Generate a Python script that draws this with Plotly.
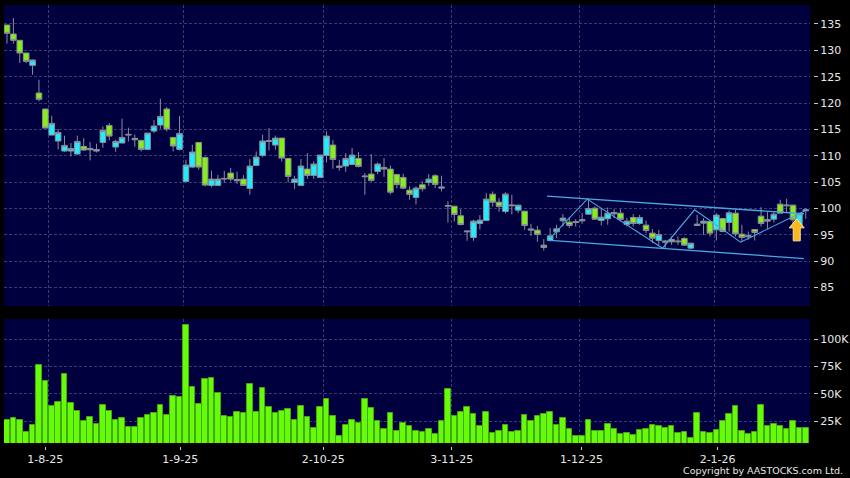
import plotly.graph_objects as go
from plotly.subplots import make_subplots

highs = [134.81,136.14,131.90,129.49,128.23,124.43,118.92,117.60,115.06,113.80,112.41,113.80,113.35,112.60,112.28,115.57,116.20,113.04,117.03,115.32,114.00,113.04,114.30,116.77,120.82,119.24,113.54,117.53,109.24,112.09,112.60,109.87,
 107.15,106.33,107.15,107.66,106.96,106.33,109.37,110.82,113.99,115.25,113.80,113.35,109.56,106.20,109.37,110.51,108.92,110.19,114.62,112.98,109.24,110.51,111.46,110.70,106.71,110.32,108.73,109.56,108.17,106.46,106.58,
 104.18,104.18,105.13,106.52,106.52,106.20,101.39,100.44,99.87,95.82,97.85,98.74,102.91,103.23,101.96,103.10,102.59,100.70,99.56,97.09,96.71,94.18,96.27,96.90,98.92,98.35,97.98,99.11,101.77,100.38,100.06,
 100.19,99.87,99.87,98.17,98.92,98.80,97.72,96.08,95.95,94.05,94.68,94.68,94.56,93.42,98.80,98.17,97.66,99.11,98.23,99.62,99.75,96.90,95.63,96.08,100.25,99.30,99.30,101.65,101.84,100.70,99.11,100.06]
body_tops = [134.81,133.10,131.90,129.49,128.16,121.90,118.86,116.14,114.43,111.96,111.39,112.72,111.77,111.39,111.20,114.81,115.76,112.72,113.48,114.05,113.29,112.91,114.30,115.63,117.47,118.86,113.48,114.24,108.23,110.70,112.53,109.68,
 105.57,105.57,105.70,106.71,105.51,105.57,108.04,109.75,112.79,112.85,113.35,113.35,109.49,105.57,108.04,107.47,108.42,110.13,113.73,112.03,108.04,109.49,110.13,109.49,106.14,106.52,108.42,107.79,107.47,106.46,105.89,
 103.48,103.86,104.49,105.57,106.20,104.05,100.57,100.44,98.61,95.70,97.60,97.78,101.77,102.72,101.20,102.72,100.63,100.63,99.49,96.08,95.89,93.04,94.81,96.14,98.17,97.41,97.47,97.85,100.00,100.06,98.35,
 99.11,99.24,99.11,97.60,98.29,98.29,96.84,95.32,95.06,93.80,94.11,93.80,94.30,93.42,97.03,97.60,97.53,98.74,98.10,99.18,99.11,95.13,94.81,96.01,98.54,97.91,98.92,100.82,100.63,100.63,98.99,99.75]
body_bottoms = [133.23,131.90,129.49,127.91,127.15,120.70,115.25,113.92,112.79,110.89,110.89,110.32,111.08,111.14,110.89,112.53,113.73,111.65,112.41,113.92,113.04,111.20,111.20,114.68,115.82,115.06,111.84,111.20,105.13,107.85,107.85,104.43,
 104.37,104.37,105.57,105.57,105.25,104.37,103.80,108.17,110.06,112.72,112.03,109.56,106.08,104.94,104.37,106.27,106.27,105.89,110.06,109.30,107.79,108.04,108.35,107.97,106.01,105.32,107.03,107.47,103.10,104.56,103.86,
 102.66,102.09,103.74,104.94,104.56,103.86,100.44,98.86,96.96,95.57,94.49,97.15,97.72,101.20,100.38,99.43,100.51,99.68,96.77,95.89,95.06,92.60,93.92,95.57,97.66,96.77,97.34,97.66,98.92,97.97,97.72,
 98.04,98.99,97.91,96.96,97.15,97.15,95.82,94.37,93.92,93.61,93.67,93.67,93.04,92.47,96.77,97.22,95.32,95.95,95.63,97.34,95.19,94.49,94.62,95.44,97.15,97.60,97.97,99.11,100.51,97.85,96.84,99.56]
lows = [131.27,131.27,127.59,127.59,125.38,120.32,115.25,113.92,111.20,110.76,109.87,110.19,110.95,109.11,110.63,111.52,112.91,110.76,112.41,112.72,111.71,110.82,111.08,114.30,115.13,114.62,110.82,111.01,105.13,107.66,107.34,104.18,
 103.99,104.30,104.87,105.13,104.62,104.37,102.59,108.17,109.75,111.01,111.14,108.92,104.94,103.74,104.37,105.63,105.63,105.89,108.73,107.53,107.15,106.96,108.35,107.79,102.59,105.06,106.52,106.01,102.66,103.80,103.67,
 101.65,100.76,103.23,104.30,103.86,103.23,97.34,97.53,96.77,93.86,93.86,96.01,97.72,100.38,99.37,99.05,98.86,99.11,95.95,94.81,93.67,92.03,93.73,94.37,96.58,96.33,96.58,97.09,98.80,97.85,96.77,
 96.90,98.17,97.53,96.58,96.58,96.90,95.32,93.42,93.10,92.47,93.10,93.10,92.91,92.34,96.77,95.00,94.68,93.92,95.51,95.63,94.68,93.73,94.05,93.92,96.58,96.08,97.34,99.11,99.11,96.90,96.39,98.04]
rising = [0,0,0,0,1,0,0,1,1,1,1,1,0,1,1,1,0,1,1,1,1,0,1,1,1,0,0,1,1,1,0,0,
 1,1,1,0,0,0,1,1,1,1,1,0,0,1,1,0,1,1,1,0,1,1,1,0,1,0,1,0,0,0,0,
 0,1,0,1,0,1,1,0,0,1,1,1,1,0,0,1,1,1,0,1,0,0,1,1,1,0,1,1,1,0,1,
 1,1,0,1,0,1,0,0,1,1,0,1,0,1,1,1,0,1,0,1,0,0,1,0,0,0,1,0,1,0,1,1]
volumes_k = [26.4,27.6,26.4,14.8,21.2,76.2,62.2,39.1,42.5,68.0,41.6,34.8,25.5,28.8,22.7,40.3,34.2,26.0,27.9,19.4,20.0,28.2,30.6,32.7,39.8,30.6,48.0,47.1,113.0,56.2,41.2,63.4,64.3,50.9,29.4,28.8,33.0,32.1,59.5,33.9,55.0,37.6,32.1,
 34.8,35.8,25.7,38.5,28.5,19.1,38.2,45.5,29.7,11.2,21.8,25.7,23.0,45.5,37.3,25.1,17.6,32.4,16.0,23.3,20.6,15.7,14.8,17.9,13.3,24.8,54.6,29.7,33.0,38.2,31.5,20.3,33.9,14.5,16.3,21.8,14.8,16.3,30.9,24.8,29.4,31.8,33.9,
 21.5,27.9,17.6,11.8,11.2,26.4,15.7,16.0,22.4,17.9,13.3,14.0,12.1,16.7,17.9,21.5,20.6,18.8,20.3,14.2,15.4,10.0,32.1,15.1,14.5,17.0,25.1,31.5,38.5,16.0,13.6,15.4,39.7,20.6,22.1,20.6,17.9,25.1,19.1,18.5]

bar_index = list(range(len(highs)))
opens = [b if r else t for t, b, r in zip(body_tops, body_bottoms, rising)]
closes = [t if r else b for t, b, r in zip(body_tops, body_bottoms, rising)]
volumes = [v * 1000 for v in volumes_k]

date_tick_pos = [6.0, 27.1, 49.5, 69.6, 89.9, 111.2]
date_tick_text = ["1-8-25", "1-9-25", "2-10-25", "3-11-25", "1-12-25", "2-1-26"]
date_grid_pos = [6.46, 27.6, 49.5, 69.56, 89.56, 110.7]
price_ticks = [85, 90, 95, 100, 105, 110, 115, 120, 125, 130, 135]
volume_ticks = [25000, 50000, 75000, 100000]
volume_tick_text = ["25K", "50K", "75K", "100K"]

channel_top_x = [84.5, 124.7]
channel_top_y = [102.34, 99.0]
channel_bottom_x = [84.5, 124.7]
channel_bottom_y = [94.0, 90.5]
zigzag_x = [85.0, 90.8, 102.6, 107.6, 114.8, 125.2]
zigzag_y = [94.37, 101.77, 92.47, 99.74, 93.61, 99.74]
arrow_index = 123.58
arrow_price = 98.03

NAVY = "#00003f"
GRID = "#3a3a78"
CYAN = "#22ecfc"
GREEN = "#84f014"
WICK = "#8c8c98"
LINE = "#4aa8e0"
FONT = dict(family="DejaVu Sans", size=11, color="#e8e8e8")

fig = make_subplots(rows=2, cols=1, shared_xaxes=False, vertical_spacing=0)
fig.add_trace(go.Candlestick(
    x=bar_index, open=opens, high=highs, low=lows, close=closes, whiskerwidth=0,
    increasing=dict(line=dict(color=WICK, width=1), fillcolor=CYAN),
    decreasing=dict(line=dict(color=WICK, width=1), fillcolor=GREEN),
    showlegend=False), row=1, col=1)
for xs, ys, w in [(channel_top_x, channel_top_y, 1.3), (channel_bottom_x, channel_bottom_y, 1.3), (zigzag_x, zigzag_y, 1.1)]:
    fig.add_trace(go.Scatter(x=xs, y=ys, mode="lines", line=dict(color=LINE, width=w),
                             showlegend=False, hoverinfo="skip"), row=1, col=1)
fig.add_trace(go.Bar(x=bar_index, y=volumes, width=0.88,
                     marker=dict(color="#66fc08", line=dict(color="#44a810", width=1)),
                     showlegend=False), row=2, col=1)

x_common = dict(range=[-0.47, 125.66], showgrid=False, zeroline=False, automargin=False, rangeslider=dict(visible=False),
                minor=dict(tickmode="array", tickvals=date_grid_pos, showgrid=True, gridcolor=GRID,
                           griddash="3px,2px", gridwidth=1, ticks=""))
fig.update_layout(
    width=850, height=478, margin=dict(l=4, r=40, t=5, b=35), paper_bgcolor="black", plot_bgcolor=NAVY,
    font=FONT, boxgap=0.12, boxgroupgap=0, bargap=0, hovermode=False,
    xaxis=dict(x_common, domain=[0, 1], showticklabels=False, ticks="", anchor="y"),
    xaxis2=dict(x_common, domain=[0, 1], anchor="y2", tickmode="array", tickvals=date_tick_pos,
                ticktext=date_tick_text, ticks="outside", ticklen=3, tickcolor="#c8c8c8",
                showline=True, linecolor="black", linewidth=4, tickfont=FONT),
    yaxis=dict(domain=[0.3128, 1], range=[81.5, 138.6], side="right", tickmode="array", tickvals=price_ticks,
               showgrid=True, gridcolor=GRID, griddash="3px,2px", gridwidth=1, zeroline=False, automargin=False,
               ticks="outside", ticklen=4, tickcolor="#c8c8c8", showline=True, linecolor="black", linewidth=4,
               tickfont=FONT, anchor="x"),
    yaxis2=dict(domain=[0, 0.2831], range=[5100, 118500], side="right", tickmode="array", tickvals=volume_ticks,
                ticktext=volume_tick_text, showgrid=True, gridcolor=GRID, griddash="3px,2px", gridwidth=1,
                zeroline=False, automargin=False, ticks="outside", ticklen=4, tickcolor="#c8c8c8", showline=True,
                linecolor="black", linewidth=4, tickfont=FONT, anchor="x2"),
    shapes=[dict(type="path", xref="x", yref="y", xsizemode="pixel", ysizemode="pixel",
                 xanchor=arrow_index, yanchor=arrow_price,
                 path="M0,0 L-7.5,-9 L-3.5,-9 L-3.5,-22 L3.5,-22 L3.5,-9 L7.5,-9 Z",
                 fillcolor="#f8b820", line=dict(color="#ffe890", width=1), layer="above")],
    annotations=[dict(text="Copyright by AASTOCKS.com Ltd.", xref="paper", yref="paper", x=1.0434, y=-0.0639,
                      xanchor="right", yanchor="middle", showarrow=False,
                      font=dict(family="DejaVu Sans", size=9.5, color="#e8e8e8"))],
)
fig.write_html("out.html", config=dict(displayModeBar=False),
               post_script="document.body.style.margin='0';document.body.style.background='black';")
